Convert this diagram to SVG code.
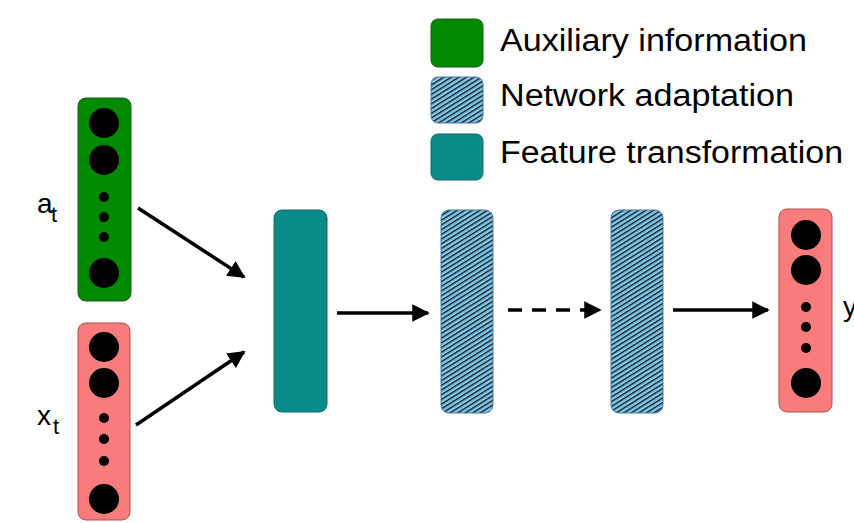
<svg xmlns="http://www.w3.org/2000/svg" width="854" height="523" viewBox="0 0 854 523">
<style>
.lbl{font-family:"Liberation Sans",Arial,sans-serif;fill:#000}
.leg{font-size:31px}
.aux{fill:#008a00;stroke:#1a5a1a;stroke-width:1}
.pink{fill:#f97c7c;stroke:#b05050;stroke-width:1}
.teal{fill:#0b8a8a;stroke:#0a6a6a;stroke-width:1}
.hat{fill:url(#hatch);stroke:#4a7a9a;stroke-width:1}
.dot{fill:#000}
.conn{stroke:#000;stroke-width:3.5;fill:none}
</style>
<defs>
<pattern id="hatch" patternUnits="userSpaceOnUse" width="4" height="4" patternTransform="rotate(-32)">
<rect width="4" height="4" fill="#7ec8ee"/>
<rect y="0" width="4" height="1.3" fill="#111"/>
</pattern>
<marker id="ah" viewBox="0 0 10 10" refX="9" refY="5" markerWidth="5" markerHeight="5" markerUnits="strokeWidth" orient="auto">
<path d="M0,0 L10,5 L0,10 z" fill="#000"/>
</marker>
</defs>
<rect width="854" height="523" fill="#fff"/>

<g id="legend">
<rect class="aux" x="431" y="19" width="52" height="48" rx="7"/>
<rect class="hat" x="431" y="77" width="52" height="46" rx="7"/>
<rect class="teal" x="431" y="134" width="52" height="46" rx="7"/>
<text class="lbl leg" x="500" y="51" textLength="307" lengthAdjust="spacingAndGlyphs">Auxiliary information</text>
<text class="lbl leg" x="500" y="106" textLength="294" lengthAdjust="spacingAndGlyphs">Network adaptation</text>
<text class="lbl leg" x="500" y="163" textLength="343" lengthAdjust="spacingAndGlyphs">Feature transformation</text>
</g>

<g id="node-a">
<rect class="aux" x="78" y="98" width="53" height="203" rx="8"/>
<circle class="dot" cx="104" cy="123" r="15"/>
<circle class="dot" cx="104" cy="160" r="15"/>
<circle class="dot" cx="104" cy="197" r="5"/>
<circle class="dot" cx="104" cy="217" r="5"/>
<circle class="dot" cx="104" cy="237" r="5"/>
<circle class="dot" cx="104" cy="273" r="15"/>
<text class="lbl" x="37" y="213" font-size="28">a</text>
<text class="lbl" x="51" y="222" font-size="22">t</text>
</g>

<g id="node-x">
<rect class="pink" x="78" y="323" width="52" height="197" rx="8"/>
<circle class="dot" cx="104" cy="347" r="15"/>
<circle class="dot" cx="104" cy="383" r="15"/>
<circle class="dot" cx="104" cy="418" r="5"/>
<circle class="dot" cx="104" cy="439" r="5"/>
<circle class="dot" cx="104" cy="461" r="5"/>
<circle class="dot" cx="104" cy="499" r="15"/>
<text class="lbl" x="37" y="425" font-size="28">x</text>
<text class="lbl" x="53" y="434" font-size="22">t</text>
</g>

<g id="node-feature">
<rect class="teal" x="274" y="210" width="53" height="202" rx="8"/>
</g>

<g id="node-adapt1">
<rect class="hat" x="441" y="210" width="52" height="203" rx="8"/>
</g>

<g id="node-adapt2">
<rect class="hat" x="611" y="210" width="52" height="203" rx="8"/>
</g>

<g id="node-y">
<rect class="pink" x="779" y="209" width="53" height="203" rx="8"/>
<circle class="dot" cx="806" cy="235" r="15"/>
<circle class="dot" cx="806" cy="270" r="15"/>
<circle class="dot" cx="806" cy="307" r="5"/>
<circle class="dot" cx="806" cy="327" r="5"/>
<circle class="dot" cx="806" cy="348" r="5"/>
<circle class="dot" cx="806" cy="383" r="15"/>
<text class="lbl" x="843" y="316" font-size="28">y</text>
</g>

<g id="connectors">
<line class="conn" x1="138" y1="208" x2="244" y2="277" marker-end="url(#ah)"/>
<line class="conn" x1="136" y1="425" x2="244" y2="352" marker-end="url(#ah)"/>
<line class="conn" x1="337" y1="313" x2="428" y2="313" marker-end="url(#ah)"/>
<line class="conn" x1="508" y1="310" x2="600" y2="310" stroke-dasharray="14,10" marker-end="url(#ah)"/>
<line class="conn" x1="673" y1="310" x2="768" y2="310" marker-end="url(#ah)"/>
</g>
</svg>
